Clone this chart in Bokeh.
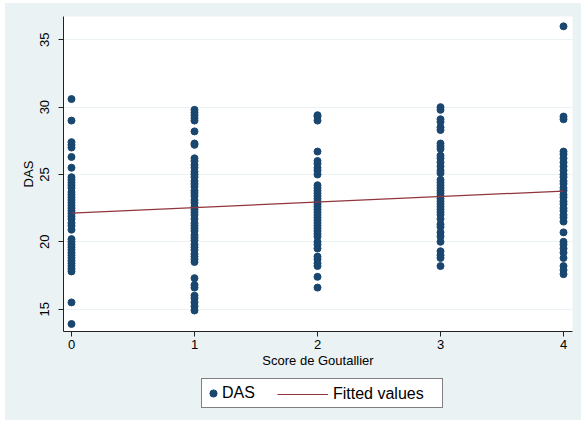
from bokeh.plotting import figure
from bokeh.layouts import column
from bokeh.models import Range1d, Legend, LegendItem, FixedTicker, ColumnDataSource
from bokeh.embed import file_html
from bokeh.resources import INLINE

# ---- data ----
das_score0 = [30.6, 29.0, 27.4, 27.2, 27.0, 26.3, 25.5, 24.8, 24.6, 24.4, 24.2, 24.0, 23.7, 23.5,
              23.3, 23.1, 22.9, 22.7, 22.5, 22.3, 22.1, 21.9, 21.7, 21.4, 21.2, 20.9, 20.2, 20.0,
              19.8, 19.6, 19.4, 19.2, 19.0, 18.8, 18.6, 18.4, 18.2, 18.0, 17.8, 15.5, 13.9]
das_score1 = [29.8, 29.6, 29.4, 29.2, 29.0, 28.2, 27.3, 27.2, 26.2, 26.0, 25.7, 25.5, 25.2, 25.0,
              24.8, 24.5, 24.3, 24.1, 23.8, 23.6, 23.4, 23.1, 22.9, 22.6, 22.4, 22.2, 22.0, 21.7,
              21.4, 21.2, 21.0, 20.8, 20.5, 20.3, 20.1, 19.8, 19.6, 19.4, 19.1, 18.9, 18.7, 18.5,
              17.3, 16.8, 16.6, 16.0, 15.8, 15.5, 15.2, 14.9]
das_score2 = [29.4, 29.3, 29.0, 26.7, 26.0, 25.8, 25.5, 25.3, 25.0, 24.2, 24.0, 23.8, 23.6, 23.4,
              23.2, 23.0, 22.8, 22.6, 22.4, 22.2, 22.0, 21.8, 21.6, 21.4, 21.2, 21.0, 20.8, 20.6,
              20.4, 20.0, 19.8, 19.5, 18.9, 18.7, 18.4, 18.2, 17.4, 16.6]
das_score3 = [30.0, 29.8, 29.1, 28.9, 28.5, 28.3, 27.3, 27.1, 26.9, 26.4, 26.2, 25.9, 25.6, 25.3,
              25.1, 24.6, 24.4, 24.2, 24.0, 23.8, 23.6, 23.4, 23.2, 23.0, 22.8, 22.6, 22.4, 22.2,
              22.0, 21.7, 21.3, 21.1, 20.7, 20.4, 20.0, 19.3, 19.0, 18.8, 18.2]
das_score4 = [36.0, 29.3, 29.1, 26.7, 26.5, 26.2, 25.9, 25.6, 25.3, 25.0, 24.8, 24.5, 24.3, 24.0,
              23.8, 23.5, 23.3, 23.0, 22.8, 22.5, 22.3, 22.0, 21.8, 21.5, 20.7, 20.0, 19.8, 19.5,
              19.2, 18.8, 18.2, 17.9, 17.6]
scores = [0, 1, 2, 3, 4]
fit_x = [0, 4]
fit_y = [22.13, 23.77]
y_ticks = [15, 20, 25, 30, 35]

xs, ys = [], []
for s, col in zip(scores, [das_score0, das_score1, das_score2, das_score3, das_score4]):
    xs += [s] * len(col)
    ys += col
src = ColumnDataSource(dict(x=xs, y=ys))

FONT = "Liberation Sans"
BG = "#EAF2F3"
DOT = "#1a476f"
FIT = "#90353b"

p = figure(width=576, height=368, output_backend="svg", toolbar_location=None,
           x_range=Range1d(-0.065, 4.073), y_range=Range1d(13.34, 36.73),
           min_border_left=58, min_border_right=9, min_border_top=13, min_border_bottom=40)
p.background_fill_color = "white"
p.border_fill_color = BG
p.outline_line_color = None

p.scatter("x", "y", source=src, size=7, color=DOT)
p.line(fit_x, fit_y, line_color=FIT, line_width=1.2)

p.xgrid.grid_line_color = None
p.ygrid.grid_line_color = BG
p.ygrid.grid_line_width = 1

p.xaxis.ticker = FixedTicker(ticks=scores)
p.yaxis.ticker = FixedTicker(ticks=y_ticks)
for ax in (p.xaxis[0], p.yaxis[0]):
    ax.axis_line_color = "#222222"
    ax.major_tick_line_color = "#222222"
    ax.major_tick_out = 5
    ax.major_tick_in = 0
    ax.minor_tick_line_color = None
    ax.major_label_text_font = FONT
    ax.major_label_text_font_size = "13px"
    ax.major_label_text_color = "#000000"
    ax.axis_label_text_font = FONT
    ax.axis_label_text_font_size = "13px"
    ax.axis_label_text_font_style = "normal"
    ax.axis_label_text_color = "#000000"
p.xaxis.axis_label = "Score de Goutallier"
p.yaxis.axis_label = "DAS"
p.xaxis.major_label_standoff = 3
p.xaxis.axis_label_standoff = 1
p.yaxis.major_label_standoff = 9
p.yaxis.axis_label_standoff = 2
p.yaxis.major_label_orientation = "vertical"

# ---- legend strip below the plot ----
lf = figure(width=576, height=49, output_backend="svg", toolbar_location=None,
            x_range=Range1d(0, 1), y_range=Range1d(0, 1),
            x_axis_location=None, y_axis_location=None,
            min_border_left=0, min_border_right=0, min_border_top=0, min_border_bottom=0)
lf.background_fill_color = None
lf.border_fill_color = BG
lf.outline_line_color = None
lf.grid.visible = False
# key renderers: one point / segment kept outside the visible ranges
pts_key = lf.scatter([5], [5], size=7, color=DOT)
ln_key = lf.line([5, 6], [5, 5], line_color=FIT, line_width=1.2)

leg_a = Legend(items=[LegendItem(label="DAS", renderers=[pts_key])],
               orientation="horizontal", location=(138, 12))
leg_a.glyph_width = 18
leg_a.glyph_height = 24
leg_a.label_standoff = 0
leg_a.label_width = 218
leg_a.padding = 2
leg_a.border_line_color = "#000000"
leg_a.border_line_width = 1
leg_a.background_fill_color = "white"
leg_a.background_fill_alpha = 1

leg_b = Legend(items=[LegendItem(label="Fitted values", renderers=[ln_key])],
               orientation="horizontal", location=(214, 16))
leg_b.glyph_width = 51
leg_b.glyph_height = 20
leg_b.label_standoff = 5
leg_b.padding = 4
leg_b.border_line_color = None
leg_b.background_fill_alpha = 0

for lg in (leg_a, leg_b):
    lg.margin = 0
    lg.label_text_font = FONT
    lg.label_text_font_size = "16px"
    lg.label_text_color = "#000000"
    lf.add_layout(lg, "center")

layout = column(p, lf, margin=(3, 0, 1, 5), spacing=0, styles={"background-color": BG})
open("out.html", "w").write(file_html(layout, INLINE))
